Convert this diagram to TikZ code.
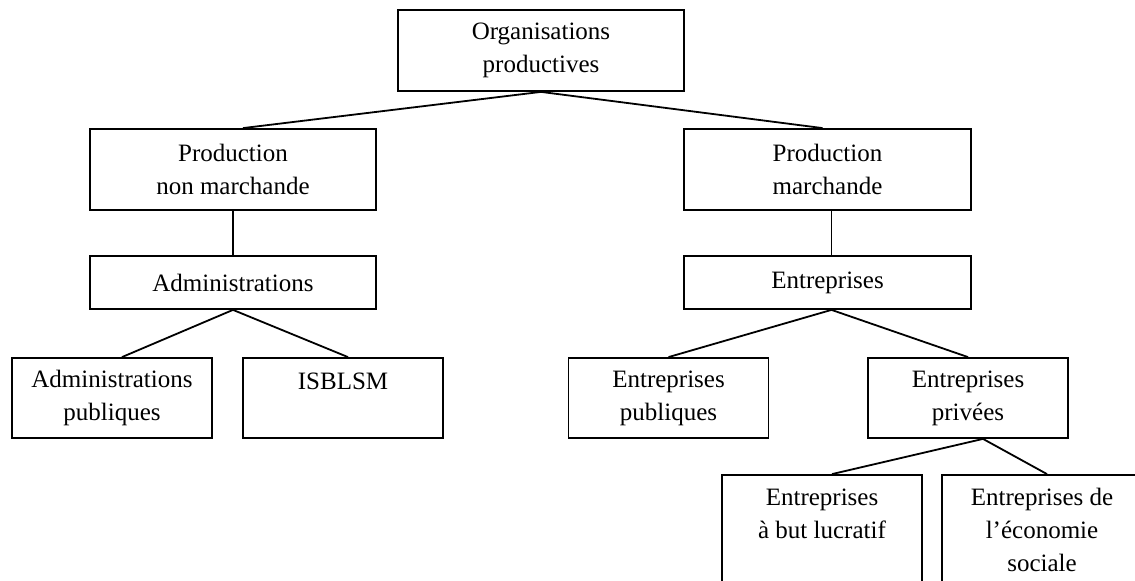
\documentclass[tikz,border=0pt]{standalone}
\usepackage{fontspec}
\setmainfont{Liberation Serif}

\tikzset{b_style/.style={draw, line width=0.9pt, rectangle, align=center, inner sep=0pt,
    font=\fontsize{12.5pt}{16.5pt}\selectfont}}
\tikzset{wide_style/.style={b_style, minimum width=143pt, minimum height=40.5pt}}
\tikzset{flat_style/.style={b_style, minimum width=143.5pt, minimum height=26.5pt}}
\tikzset{leaf_style/.style={b_style, minimum width=100pt, minimum height=40pt}}
\tikzset{deep_style/.style={b_style, minimum width=100pt, minimum height=55pt}}

\begin{document}
\begin{tikzpicture}[x=0.5pt, y=-0.5pt]
    \clip (0,0) rectangle (1135,581);

    \node[wide_style] (org) at (541,50.5){Organisations\\productives};
    \node[wide_style] (pnm) at (233,169.5){Production\\non marchande};
    \node[wide_style, minimum width=143.5pt] (pm) at (827.5,169.5){Production\\marchande};
    \node[flat_style, minimum width=143pt] (adm) at (233,282.5){Administrations};
    \node[flat_style] (ent) at (827.5,282.5){Entreprises};
    \node[leaf_style] (admpub) at (112,398){Administrations\\publiques};
    \node[leaf_style] (isblsm) at (343,398){ISBLSM\\\mbox{}};
    \node[leaf_style] (entpub) at (668.5,398){Entreprises\\publiques};
    \node[leaf_style] (entpriv) at (968,398){Entreprises\\privées};
    \node[deep_style] (lucr) at (822,530){Entreprises\\à but lucratif\\\mbox{}};
    \node[deep_style] (ecosoc) at (1042,530){Entreprises de\\l’économie\\sociale};

    \draw[line width=0.9pt] (org.south) -- ([xshift=5pt]pnm.north);
    \draw[line width=0.9pt] (org.south) -- ([xshift=-2.5pt]pm.north);
    \draw[line width=0.9pt] (pnm) -- (adm);
    \draw[line width=0.9pt] ([xshift=2pt]pm.south) -- ([xshift=2pt]ent.north);
    \draw[line width=0.9pt] (adm.south) -- ([xshift=5pt]admpub.north);
    \draw[line width=0.9pt] (adm.south) -- ([xshift=2.5pt]isblsm.north);
    \draw[line width=0.9pt] ([xshift=2pt]ent.south) -- (entpub.north);
    \draw[line width=0.9pt] ([xshift=2pt]ent.south) -- (entpriv.north);
    \draw[line width=0.9pt] ([xshift=7.5pt]entpriv.south) -- ([xshift=5pt]lucr.north);
    \draw[line width=0.9pt] ([xshift=7.5pt]entpriv.south) -- ([xshift=2.5pt]ecosoc.north);

\end{tikzpicture}
\end{document}
